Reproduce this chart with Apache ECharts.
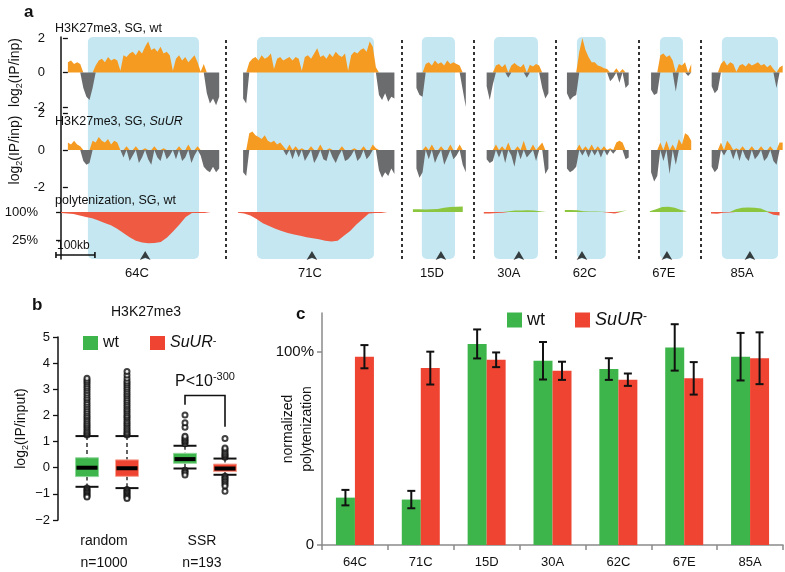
<!DOCTYPE html>
<html><head><meta charset="utf-8">
<script src="https://cdn.jsdelivr.net/npm/echarts@6/dist/echarts.min.js"></script>
<style>html,body{margin:0;padding:0;background:#fff}#c{width:785px;height:572px}</style>
</head><body><div id="c"></div><script>
// ================= DATA =================
// ---- panel a: genomic regions ----
const regionNames = ['64C','71C','15D','30A','62C','67E','85A'];
const regionStartKb = [0, 454, 903, 1085, 1293, 1511, 1668];
const domainStartKb = [69, 49, 23, 26, 31, 26, 28];
const domainEndKb   = [354, 349, 108, 139, 105, 85, 172];
const arrowKb = [216, 190, 72, 90, 44, 44, 100];
const labelKb = [195, 185, 49, 64, 51, 36, 80];
const h3BinKb = 8, polyBinKb = 16;
const scaleBarStartKb = -13, scaleBarKb = 100;
const polyTickPct = [100, 25];

// H3K27me3 log2(IP/inp), wild type
const wt64C = [0.6,0.7,0.5,0.6,0.5,-0.9,-1.4,-1.6,-0.9,0.4,0.7,0.8,0.6,0.9,0.7,0.8,0.7,0.1,1.0,0.9,1.1,1.2,1.0,1.3,1.1,1.5,1.8,1.3,1.4,1.2,1.5,1.1,1.2,1.0,0.1,0.8,1.0,0.7,0.9,0.6,0.8,1.0,0.6,0.05,0.5,-1.2,-1.8,-1.5,-1.9,-1.4];
const wt71C = [-1.5,-1.8,0.6,0.8,0.9,0.7,1.0,0.8,0.9,1.1,0.2,0.8,0.9,0.7,0.8,0.9,0.7,0.9,0.8,0.1,0.9,1.0,0.8,1.1,1.4,0.9,1.0,0.8,1.1,0.9,1.2,1.0,0.9,1.1,0.1,1.0,1.2,1.1,1.3,1.4,1.2,1.8,1.5,0.3,-1.3,-1.6,-1.2,-1.7,-1.4,-1.5];
const wt15D = [-0.9,-1.3,-1.4,0.5,0.6,0.4,0.7,0.5,0.6,0.4,0.7,0.5,0.6,0.5,0.4,-1.0,-2.0];
const wt30A = [-0.8,-1.6,-0.7,0.4,0.5,0.3,0.5,-0.3,0.4,0.55,0.4,0.3,0.5,-0.3,0.45,0.35,0.5,0.4,-0.9,-1.5,-1.2];
const wt62C = [-1.2,-1.6,-1.4,-1.3,1.2,2.0,1.3,0.9,0.6,0.6,0.4,0.35,0.25,0.2,-0.5,-0.3,0.25,-0.6,0.2,-0.9,-0.7];
const wt67E = [-1.0,-1.3,-1.2,1.0,1.1,0.9,1.0,0.7,-1.1,0.5,0.4,0.6,-0.2,0.5];
const wt85A = [-0.8,-1.2,-1.0,0.5,0.7,0.4,0.6,0.5,0.05,0.4,0.5,0.35,0.55,0.4,0.5,0.6,0.4,0.5,0.3,0.45,0.2,-0.9,0.3,0.4];
// H3K27me3 log2(IP/inp), SuUR mutant
const su64C = [0.4,0.3,0.5,0.3,0.2,-0.6,-0.8,-0.7,0.5,0.4,0.7,0.5,0.4,0.6,0.3,0.5,0.4,0,-0.4,0.2,-0.6,-0.3,0.2,-0.7,-0.4,0.1,-0.5,-0.8,0.2,-0.4,-0.6,0.1,-0.5,-0.3,0,-0.5,0.2,-0.6,-0.4,0.3,-0.7,-0.3,0.2,-0.3,-0.9,-1.1,-1.2,-0.9,-1.2,-1.0];
const su71C = [-1.2,-1.4,0.9,1.0,0.8,0.7,0.6,0.8,0.5,0.4,0.5,0.3,0.4,0.2,-0.3,0.3,-0.5,0.2,-0.4,0.1,-0.6,-0.3,0.2,-0.7,-0.4,0.3,-0.5,-0.6,0.1,-0.4,-0.7,-0.3,0.2,-0.6,-0.5,-0.3,0.1,-0.6,-0.4,0.2,-0.5,-0.3,0.3,0.1,-1.1,-1.5,-1.2,-1.4,-1.0,-1.3];
const su15D = [-1.0,-1.5,-1.2,0.2,-0.5,0.3,-0.7,-0.3,0.2,-0.8,-0.4,0.3,-0.5,-0.3,0.3,-0.8,-1.2];
const su30A = [-0.5,-0.7,-0.6,0.3,-0.4,0.2,-0.7,0.4,-0.3,-0.9,0.2,-0.5,0.5,-0.4,-0.2,0.3,-0.6,0.2,0.4,-1.3,-1.0];
const su62C = [-1.0,-1.2,-1.1,-0.9,0.3,-0.3,0.2,-0.4,0.3,-0.3,0.2,-0.4,0.2,-0.3,0.1,-0.2,0.4,0.5,0.4,-0.5,-0.4];
const su67E = [-1.2,-1.7,-1.4,0.4,-0.6,0.5,-1.3,0.3,-0.8,0.6,0.3,0.9,0.8,0.5];
const su85A = [-0.9,-1.2,-1.0,0.4,-0.3,0.5,0.3,-0.5,0.1,-0.6,0.2,-0.4,-0.6,0.2,-0.5,-0.3,0.2,-0.6,-0.4,0.2,-0.6,-0.8,0.4,0.4];
// polytenization, log2 of relative level (0 = 100%)
const poly64C = [-0.08,-0.1,-0.15,-0.25,-0.35,-0.45,-0.6,-0.78,-0.95,-1.2,-1.5,-1.8,-2.05,-2.18,-2.24,-2.22,-2.14,-1.83,-1.38,-0.9,-0.35,-0.08,-0.08,-0.08,-0.08];
const poly71C = [-0.05,-0.1,-0.25,-0.5,-0.8,-1.0,-1.2,-1.35,-1.5,-1.6,-1.7,-1.8,-1.88,-1.95,-2.05,-2.1,-2.05,-1.7,-1.35,-0.9,-0.5,-0.1,-0.08,-0.08,-0.08];
const poly15D = [0.2,0.2,0.18,0.2,0.22,0.3,0.35,0.38,0.4];
const poly30A = [-0.1,-0.1,-0.08,-0.06,0.05,0.1,0.1,0.12,0.1,0.05,-0.1];
const poly62C = [0.15,0.15,0.12,0.06,0.04,0.03,0.02,-0.05,-0.1,0.05,0.12];
const poly67E = [0.05,0.2,0.35,0.38,0.3,0.15,0.05];
const poly85A = [-0.1,-0.12,-0.06,-0.03,0.2,0.3,0.32,0.3,0.25,0.05,-0.2,-0.25];

// ---- panel b: boxplots [low whisker, q1, median, q3, high whisker] ----
const bGroups = ['random', 'SSR'];
const bGroupN = [1000, 193];
const boxWtRandom = [-0.73, -0.34, 0.0, 0.38, 1.21];
const boxSuRandom = [-0.78, -0.33, -0.02, 0.3, 1.21];
const boxWtSSR = [-0.03, 0.17, 0.33, 0.55, 0.84];
const boxSuSSR = [-0.27, -0.15, -0.03, 0.14, 0.35];
const outWtRandom = [1.25,1.3,1.36,1.42,1.5,1.57,1.63,1.7,1.78,1.85,1.93,2.0,2.08,2.16,2.25,2.33,2.42,2.5,2.6,2.68,2.77,2.86,2.95,3.04,3.12,3.2,3.28,3.35,3.42,-0.78,-0.83,-0.88,-0.93,-0.98,-1.03,-1.08,-1.12];
const outSuRandom = [1.25,1.3,1.36,1.43,1.5,1.58,1.65,1.72,1.8,1.88,1.95,2.02,2.1,2.18,2.26,2.34,2.42,2.5,2.58,2.67,2.75,2.83,2.92,3.0,3.08,3.16,3.24,3.32,3.42,3.55,3.68,-0.83,-0.88,-0.93,-0.98,-1.03,-1.08,-1.13,-1.18];
const outWtSSR = [0.92,0.98,1.03,1.09,1.15,1.2,1.55,1.72,2.02,-0.1,-0.15,-0.2,-0.28];
const outSuSSR = [0.4,0.45,0.5,0.55,0.62,0.7,0.75,1.12,-0.33,-0.38,-0.43,-0.5,-0.56,-0.63,-0.7,-0.9];
const bracketVals = [2.41, 2.76, 1.57]; // left foot, top, right foot
const pExponent = '-300';
const bTicks = [-2, 5, 1];

// ---- panel c: normalized polytenization (1 = 100%) ----
const cWt = [0.245, 0.235, 1.04, 0.953, 0.91, 1.022, 0.974];
const cWtErr = [0.04, 0.045, 0.075, 0.097, 0.056, 0.12, 0.123];
const cSu = [0.974, 0.915, 0.958, 0.901, 0.855, 0.862, 0.966];
const cSuErr = [0.06, 0.085, 0.038, 0.047, 0.032, 0.084, 0.134];
const cTickValues = [0, 1];

// ================= BUILD =================
const FONT = '"Liberation Sans", Arial, Helvetica, sans-serif';
const ORANGE = '#f59b22', GRAY = '#6b6c6e', PRED = '#ef5a43', PGREEN = '#8cc63f';
const GREEN = '#3db54a', RED = '#ee4431', BLUE = '#c4e7f1';

const wtTracks = [wt64C, wt71C, wt15D, wt30A, wt62C, wt67E, wt85A];
const suTracks = [su64C, su71C, su15D, su30A, su62C, su67E, su85A];
const polyTracks = [poly64C, poly71C, poly15D, poly30A, poly62C, poly67E, poly85A];

function build(tracks, bin, sign) {
  const out = [];
  tracks.forEach((vals, r) => {
    vals.forEach((v, i) => {
      out.push([regionStartKb[r] + i * bin, sign > 0 ? Math.max(v, 0) : Math.min(v, 0)]);
    });
    out.push([regionStartKb[r] + vals.length * bin, null]);
  });
  return out;
}
const regionEndKb = wtTracks.map((v, r) => regionStartKb[r] + (v.length - 1) * h3BinKb);
const separators = regionStartKb.slice(1).map((s, r) => (regionEndKb[r] + s) / 2);
const labelAbs = labelKb.map((k, r) => regionStartKb[r] + k);

const X_MIN = -36, X_MAX = 1858;
function xa(i, extra) {
  return Object.assign({type: 'value', gridIndex: i, min: X_MIN, max: X_MAX,
    axisLine: {show: false}, axisTick: {show: false}, axisLabel: {show: false}, splitLine: {show: false}}, extra || {});
}
const subName = (rest) => '{n|log}{s|2}{n|' + rest + '}';
const subRich = {n: {fontSize: 14, lineHeight: 18, fontFamily: FONT, color: '#111'},
                 s: {fontSize: 9, lineHeight: 9, verticalAlign: 'bottom', fontFamily: FONT, color: '#111'}};
function trackY(i, extra) {
  return Object.assign({type: 'value', gridIndex: i, min: -2, max: 2, interval: 2,
    axisLine: {show: false}, splitLine: {show: false},
    axisTick: {show: true, length: 5, lineStyle: {color: '#111', width: 1.3}},
    axisLabel: {fontSize: 13, margin: 9, color: '#111', fontFamily: FONT}}, extra || {});
}
function areaSeries(xi, data, color) {
  return {type: 'line', xAxisIndex: xi, yAxisIndex: xi, data: data, symbol: 'none', showSymbol: false,
    lineStyle: {width: 0}, areaStyle: {color: color, opacity: 1}, connectNulls: false, silent: true, z: 3};
}

function boxRender(offset, fill, border) {
  return function (params, api) {
    const c = api.value(0);
    const lo = api.coord([c, api.value(1)]), q1 = api.coord([c, api.value(2)]),
          md = api.coord([c, api.value(3)]), q3 = api.coord([c, api.value(4)]), hi = api.coord([c, api.value(5)]);
    const cx = lo[0] + offset, w = 23, h = w / 2;
    const st = {stroke: '#111', lineWidth: 1.3, lineDash: [4, 3]};
    return {type: 'group', children: [
      {type: 'line', shape: {x1: cx, y1: hi[1], x2: cx, y2: q3[1]}, style: st},
      {type: 'line', shape: {x1: cx, y1: q1[1], x2: cx, y2: lo[1]}, style: st},
      {type: 'line', shape: {x1: cx - h, y1: hi[1], x2: cx + h, y2: hi[1]}, style: {stroke: '#111', lineWidth: 2}},
      {type: 'line', shape: {x1: cx - h, y1: lo[1], x2: cx + h, y2: lo[1]}, style: {stroke: '#111', lineWidth: 2}},
      {type: 'rect', shape: {x: cx - h, y: q3[1], width: w, height: q1[1] - q3[1]}, style: {fill: fill, stroke: border, lineWidth: 1}},
      {type: 'line', shape: {x1: cx - h + 1, y1: md[1], x2: cx + h - 1, y2: md[1]}, style: {stroke: '#000', lineWidth: 4}}
    ]};
  };
}
function errRender(offset) {
  return function (params, api) {
    const c = api.value(0);
    const a = api.coord([c, api.value(1)]), b = api.coord([c, api.value(2)]);
    const cx = a[0] + offset, st = {stroke: '#111', lineWidth: 2};
    return {type: 'group', children: [
      {type: 'line', shape: {x1: cx, y1: a[1], x2: cx, y2: b[1]}, style: st},
      {type: 'line', shape: {x1: cx - 4, y1: a[1], x2: cx + 4, y2: a[1]}, style: st},
      {type: 'line', shape: {x1: cx - 4, y1: b[1], x2: cx + 4, y2: b[1]}, style: st}
    ]};
  };
}
const legendFmt = (n) => n === 'SuUR' ? '{i|SuUR}{p|-}' : '{t|' + n + '}';
const plainTitle = (text, left, top, size, weight) => ({text: text, left: left, top: top, padding: 0,
  textStyle: {fontSize: size, fontWeight: weight || 'normal', color: '#111', fontFamily: FONT}});

const option = {
  animation: false,
  textStyle: {fontFamily: FONT},
  title: [
    plainTitle('a', 24, 4, 17, 'bold'),
    plainTitle('b', 32, 297, 17, 'bold'),
    plainTitle('c', 296, 306, 17, 'bold'),
    plainTitle('H3K27me3, SG, wt', 55, 22, 12.5),
    {text: '{n|H3K27me3, SG, }{i|SuUR}', left: 55, top: 115, padding: 0, textStyle: {fontSize: 12.5, fontWeight: 'normal', color: '#111', fontFamily: FONT,
      rich: {n: {fontSize: 12.5, color: '#111', fontFamily: FONT}, i: {fontSize: 12.5, fontStyle: 'italic', color: '#111', fontFamily: FONT}}}},
    plainTitle('polytenization, SG, wt', 55, 194, 12.5),
    Object.assign(plainTitle('H3K27me3', 146, 305, 14), {textAlign: 'center'})
  ],
  legend: [
    {left: 83, top: 335, padding: 0, icon: 'rect', itemWidth: 15, itemHeight: 14, itemGap: 31, data: ['wt', 'SuUR'], selectedMode: false,
      formatter: legendFmt,
      textStyle: {rich: {t: {fontSize: 16, color: '#111', fontFamily: FONT}, i: {fontSize: 16, fontStyle: 'italic', color: '#111', fontFamily: FONT},
        p: {fontSize: 11, verticalAlign: 'top', color: '#111', fontFamily: FONT}}}},
    {left: 507, top: 311, padding: 0, icon: 'rect', itemWidth: 15, itemHeight: 15, itemGap: 30, data: ['wt', 'SuUR'], selectedMode: false,
      formatter: legendFmt,
      textStyle: {rich: {t: {fontSize: 18, color: '#111', fontFamily: FONT}, i: {fontSize: 18, fontStyle: 'italic', color: '#111', fontFamily: FONT},
        p: {fontSize: 12, verticalAlign: 'top', color: '#111', fontFamily: FONT}}}}
  ],
  grid: [
    {left: 47, right: 0, top: 37, height: 222},
    {left: 47, right: 0, top: 38, height: 69},
    {left: 47, right: 0, top: 113, height: 74},
    {left: 47, right: 0, top: 205, height: 42},
    {left: 58, top: 337, width: 196, height: 183},
    {left: 322, right: 2, top: 313, height: 232}
  ],
  xAxis: [
    xa(0, {axisLabel: {show: true, customValues: labelAbs, margin: 8, fontSize: 13, color: '#111', fontFamily: FONT,
      formatter: (v) => { const k = labelAbs.indexOf(v); return k >= 0 ? regionNames[k] : ''; }}}),
    xa(1), xa(2), xa(3),
    {type: 'category', gridIndex: 4, data: bGroups, axisLine: {show: false}, axisTick: {show: false},
      axisLabel: {margin: 10, color: '#111', fontFamily: FONT,
        formatter: (v, i) => '{a|' + v + '}\n{a|n=' + bGroupN[i] + '}',
        rich: {a: {fontSize: 14, lineHeight: 22, color: '#111', fontFamily: FONT, padding: [0, 6, 0, 0]}}}},
    {type: 'category', gridIndex: 5, data: regionNames,
      axisLine: {lineStyle: {color: '#8a8a8a', width: 1.5}},
      axisTick: {show: true, length: 5, lineStyle: {color: '#8a8a8a', width: 1.5}},
      axisLabel: {fontSize: 13, margin: 11, color: '#111', fontFamily: FONT}}
  ],
  yAxis: [
    {type: 'value', gridIndex: 0, min: 0, max: 1, axisLine: {show: true, lineStyle: {color: '#111', width: 1.5}},
      axisTick: {show: false}, axisLabel: {show: false}, splitLine: {show: false}},
    trackY(1, {name: subName('(IP/inp)'), nameLocation: 'middle', nameGap: 30, nameRotate: 90, nameMoveOverlap: false, nameTextStyle: {rich: subRich}}),
    trackY(2, {name: subName('(IP/inp)'), nameLocation: 'middle', nameGap: 30, nameRotate: 90, nameMoveOverlap: false, nameTextStyle: {rich: subRich}}),
    trackY(3, {min: -2.5, max: 0.5, interval: null,
      axisTick: {show: true, length: 5, customValues: polyTickPct.map(p => Math.log2(p / 100)), lineStyle: {color: '#111', width: 1.3}},
      axisLabel: {fontSize: 13, margin: 9, color: '#111', fontFamily: FONT, customValues: polyTickPct.map(p => Math.log2(p / 100)),
        formatter: (v) => Math.round(100 * Math.pow(2, v)) + '%'}}),
    {type: 'value', gridIndex: 4, min: bTicks[0], max: bTicks[1], interval: bTicks[2],
      axisLine: {show: true, lineStyle: {color: '#111', width: 1.5}},
      axisTick: {show: true, length: 5, lineStyle: {color: '#111', width: 1.3}},
      splitLine: {show: false},
      axisLabel: {fontSize: 13, margin: 8, color: '#111', fontFamily: FONT, formatter: (v) => (v < 0 ? '\u2212' + (-v) : '' + v)},
      name: subName('(IP/input)'), nameLocation: 'middle', nameGap: 28, nameRotate: 90, nameMoveOverlap: false, nameTextStyle: {rich: subRich}},
    {type: 'value', gridIndex: 5, min: 0, max: 1.2,
      axisLine: {show: true, lineStyle: {color: '#8a8a8a', width: 1.5}},
      axisTick: {show: true, length: 5, customValues: cTickValues, lineStyle: {color: '#8a8a8a', width: 1.5}},
      splitLine: {show: false},
      axisLabel: {fontSize: 15, margin: 8, color: '#111', fontFamily: FONT, customValues: cTickValues,
        formatter: (v) => v === 0 ? '0' : Math.round(v * 100) + '%'},
      name: 'normalized\npolytenization', nameLocation: 'middle', nameGap: 5, nameRotate: 90, nameMoveOverlap: false,
      nameTextStyle: {fontSize: 14, lineHeight: 19, color: '#111', fontFamily: FONT}}
  ],
  series: [
    // blue domains
    {type: 'custom', xAxisIndex: 0, yAxisIndex: 0, silent: true, z: 1,
      data: regionStartKb.map((s, r) => [s + domainStartKb[r], s + domainEndKb[r]]),
      renderItem: (p, api) => {
        const a = api.coord([api.value(0), 1]), b = api.coord([api.value(1), 0]);
        return {type: 'rect', shape: {x: a[0], y: a[1], width: b[0] - a[0], height: b[1] - a[1], r: 5}, style: {fill: BLUE}};
      }},
    // scale bar
    {type: 'custom', xAxisIndex: 0, yAxisIndex: 0, silent: true, z: 5,
      data: [[scaleBarStartKb, scaleBarStartKb + scaleBarKb]],
      renderItem: (p, api) => {
        const a = api.coord([api.value(0), 0]), b = api.coord([api.value(1), 0]);
        const y = a[1] - 4, st = {stroke: '#111', lineWidth: 1.6};
        return {type: 'group', children: [
          {type: 'line', shape: {x1: a[0], y1: y, x2: b[0], y2: y}, style: st},
          {type: 'line', shape: {x1: a[0], y1: y - 3, x2: a[0], y2: y + 3}, style: st},
          {type: 'line', shape: {x1: b[0], y1: y - 3, x2: b[0], y2: y + 3}, style: st},
          {type: 'text', style: {text: scaleBarKb + 'kb', x: a[0] + 1, y: y - 3, fill: '#111', font: '12px ' + FONT, align: 'left', verticalAlign: 'bottom'}}
        ]};
      }},
    // arrowheads + separators
    {type: 'scatter', xAxisIndex: 0, yAxisIndex: 0, silent: true, z: 5, clip: false,
      data: arrowKb.map((k, r) => [regionStartKb[r] + k, 0]),
      symbol: 'arrow', symbolSize: [8, 9], symbolOffset: [0, -8], itemStyle: {color: '#111'},
      markLine: {silent: true, symbol: ['none', 'none'], label: {show: false}, animation: false,
        lineStyle: {color: '#111', type: [3, 3], width: 1.7},
        data: separators.map(x => ({xAxis: x}))}},
    areaSeries(1, build(wtTracks, h3BinKb, 1), ORANGE),
    areaSeries(1, build(wtTracks, h3BinKb, -1), GRAY),
    areaSeries(2, build(suTracks, h3BinKb, 1), ORANGE),
    areaSeries(2, build(suTracks, h3BinKb, -1), GRAY),
    areaSeries(3, build(polyTracks, polyBinKb, 1), PGREEN),
    areaSeries(3, build(polyTracks, polyBinKb, -1), PRED),
    // panel b
    {name: 'wt', type: 'custom', xAxisIndex: 4, yAxisIndex: 4, itemStyle: {color: GREEN}, z: 3,
      data: [[0].concat(boxWtRandom), [1].concat(boxWtSSR)], encode: {x: 0, y: [1, 2, 3, 4, 5]},
      renderItem: boxRender(-20, GREEN, '#8fd69a')},
    {name: 'SuUR', type: 'custom', xAxisIndex: 4, yAxisIndex: 4, itemStyle: {color: RED}, z: 3,
      data: [[0].concat(boxSuRandom), [1].concat(boxSuSSR)], encode: {x: 0, y: [1, 2, 3, 4, 5]},
      renderItem: boxRender(20, RED, '#f6a394')},
    {name: 'wt outliers', type: 'scatter', xAxisIndex: 4, yAxisIndex: 4, symbol: 'emptyCircle', symbolSize: 5, symbolOffset: [-20, 0], z: 4,
      itemStyle: {color: '#111', borderWidth: 1.2},
      data: outWtRandom.map(v => [0, v]).concat(outWtSSR.map(v => [1, v]))},
    {name: 'SuUR outliers', type: 'scatter', xAxisIndex: 4, yAxisIndex: 4, symbol: 'emptyCircle', symbolSize: 5, symbolOffset: [20, 0], z: 4,
      itemStyle: {color: '#111', borderWidth: 1.2},
      data: outSuRandom.map(v => [0, v]).concat(outSuSSR.map(v => [1, v]))},
    {type: 'custom', xAxisIndex: 4, yAxisIndex: 4, silent: true, z: 5,
      data: [[1].concat(bracketVals)],
      renderItem: (p, api) => {
        const c = api.value(0);
        const l = api.coord([c, api.value(1)]), t = api.coord([c, api.value(2)]), r = api.coord([c, api.value(3)]);
        const xl = l[0] - 20, xr = l[0] + 20;
        return {type: 'group', children: [
          {type: 'polyline', shape: {points: [[xl, l[1]], [xl, t[1]], [xr, t[1]], [xr, r[1]]]}, style: {stroke: '#111', lineWidth: 1.6, fill: null}},
          {type: 'text', style: {text: '{n|P<10}{p|' + pExponent + '}', x: l[0], y: t[1] - 4, align: 'center', verticalAlign: 'bottom',
            rich: {n: {fontSize: 16, lineHeight: 20, fill: '#111', fontFamily: FONT}, p: {fontSize: 11, lineHeight: 11, verticalAlign: 'top', fill: '#111', fontFamily: FONT}}}}
        ]};
      }},
    // panel c
    {name: 'wt', type: 'bar', xAxisIndex: 5, yAxisIndex: 5, data: cWt, barWidth: 19, barGap: '0%', itemStyle: {color: GREEN}, z: 2},
    {name: 'SuUR', type: 'bar', xAxisIndex: 5, yAxisIndex: 5, data: cSu, barWidth: 19, barGap: '0%', itemStyle: {color: RED}, z: 2},
    {type: 'custom', xAxisIndex: 5, yAxisIndex: 5, silent: true, z: 4,
      data: cWt.map((v, i) => [i, v - cWtErr[i], v + cWtErr[i]]), renderItem: errRender(-9.5)},
    {type: 'custom', xAxisIndex: 5, yAxisIndex: 5, silent: true, z: 4,
      data: cSu.map((v, i) => [i, v - cSuErr[i], v + cSuErr[i]]), renderItem: errRender(9.5)}
  ]
};
const chart = echarts.init(document.getElementById('c'), null, {renderer: 'canvas'});
chart.setOption(option);
</script></body></html>
